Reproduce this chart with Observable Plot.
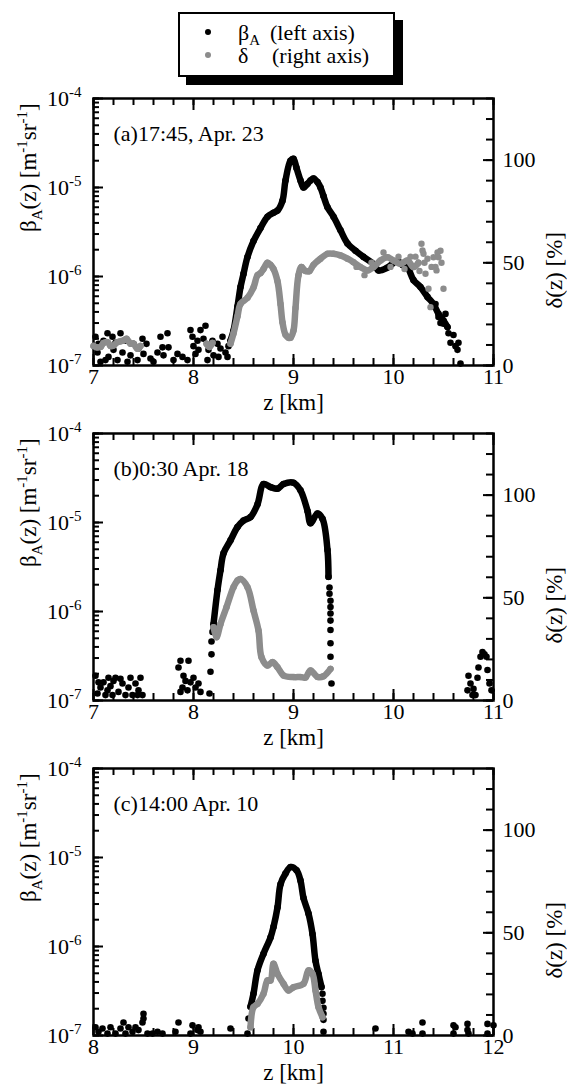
<!DOCTYPE html>
<html>
<head>
<meta charset="utf-8">
<script src="https://cdn.jsdelivr.net/npm/d3@7"></script>
<script src="https://cdn.jsdelivr.net/npm/@observablehq/plot@0.6"></script>
<style>
  html, body { margin: 0; padding: 0; background: #fff; }
  #wrap { position: relative; width: 567px; height: 1086px; font-family: "Liberation Serif", "Times New Roman", Times, "DejaVu Serif", serif; }
  #wrap svg, #wrap svg text, #wrap svg tspan { font-family: "Liberation Serif", "Times New Roman", Times, "DejaVu Serif", serif !important; }
  .layer { position: absolute; left: 0; }
  .legend { position: absolute; left: 178px; top: 12px; width: 213px; height: 61px; border: 2px solid #000; box-shadow: 8px 8px 0 #000; background: #fff; font-size: 22px; font-family: "Liberation Serif", "Times New Roman", Times, serif; }
  .legend .dot { position: absolute; width: 6px; height: 6px; border-radius: 50%; }
  .legend .t { position: absolute; line-height: 22px; white-space: nowrap; }
  .legend sub { font-size: 15px; vertical-align: -5px; line-height: 0; }
</style>
</head>
<body>
<div id="wrap">
  <div class="legend">
    <span class="dot" style="left:25px;top:15px;background:#000"></span>
    <span class="t" style="left:58px;top:8px">β<sub>A</sub></span>
    <span class="t" style="left:90px;top:8px">(left axis)</span>
    <span class="dot" style="left:25px;top:38px;background:#8c8c8c"></span>
    <span class="t" style="left:58px;top:31px">δ</span>
    <span class="t" style="left:92px;top:31px">(right axis)</span>
  </div>
</div>
<script>
// ---------------- data ----------------
const betaTicks = [1e-7, 1e-6, 1e-5, 1e-4];
const deltaTicks = [0, 50, 100];
const zTicksAB = [7, 8, 9, 10, 11];
const zTicksC = [8, 9, 10, 11, 12];
const labels = ["(a)17:45, Apr. 23", "(b)0:30 Apr. 18", "(c)14:00 Apr. 10"];

// Panel (a)
const aNoiseZ = [7.02,7.04,7.05,7.07,7.10,7.12,7.14,7.15,7.19,7.20,7.22,7.24,7.27,7.29,7.32,7.34,7.37,7.40,7.44,7.45,7.49,7.50,7.53,7.57,7.60,7.64,7.67,7.69,7.70,7.74,7.75,7.80,7.84,7.89,7.94,7.97,7.99,8.00,8.02,8.04,8.05,8.07,8.10,8.12,8.14,8.15,8.19,8.20,8.24,8.25,8.27,8.29,8.32,8.34,8.35];
const aNoiseB = [2.1e-7,1.4e-7,1.75e-7,1.1e-7,1.9e-7,1.15e-7,2.3e-7,1.25e-7,2.1e-7,1.5e-7,1.8e-7,1.15e-7,2.3e-7,1.4e-7,1.9e-7,1.1e-7,1.3e-7,1.75e-7,1.15e-7,1.55e-7,2.0e-7,1.35e-7,1.75e-7,1.2e-7,1.1e-7,1.4e-7,2.1e-7,1.6e-7,1.3e-7,2.3e-7,1.6e-7,1.15e-7,1.35e-7,1.25e-7,1.15e-7,2.5e-7,2.1e-7,1.65e-7,1.35e-7,1.9e-7,1.5e-7,2.5e-7,2.0e-7,2.8e-7,1.15e-7,1.5e-7,1.9e-7,1.3e-7,1.75e-7,1.25e-7,1.55e-7,2.1e-7,1.4e-7,1.25e-7,1.65e-7];
const aProfZ = [8.37,8.40,8.44,8.47,8.50,8.54,8.60,8.67,8.74,8.80,8.84,8.89,8.92,8.97,9.00,9.03,9.07,9.10,9.14,9.17,9.20,9.24,9.27,9.30,9.34,9.40,9.47,9.54,9.62,9.70,9.80,9.85,9.94,10.04,10.09,10.14,10.20,10.27,10.34,10.40,10.45,10.50,10.54];
const aProfB = [1.9e-7,2.45e-7,4.6e-7,7.6e-7,1.07e-6,1.66e-6,2.5e-6,3.5e-6,4.7e-6,5.2e-6,5.5e-6,7.1e-6,1.2e-5,2.0e-5,2.1e-5,1.66e-5,1.2e-5,1.0e-5,1.1e-5,1.2e-5,1.26e-5,1.15e-5,1.0e-5,8.0e-6,6.0e-6,4.7e-6,3.3e-6,2.35e-6,1.95e-6,1.66e-6,1.38e-6,1.17e-6,1.26e-6,1.5e-6,1.35e-6,1.26e-6,9.1e-7,7.6e-7,5.9e-7,4.9e-7,3.8e-7,3.2e-7,2.7e-7];
const aTailZ = [10.39,10.42,10.45,10.47,10.50,10.52,10.55,10.57,10.60,10.62,10.64,10.65,10.67];
const aTailB = [4.6e-7,4.9e-7,3.5e-7,3.0e-7,2.95e-7,3.8e-7,2.3e-7,1.8e-7,2.2e-7,1.65e-7,1.5e-7,1.8e-7,1.05e-7];
const aDLowZ = [7.00,7.03,7.07,7.10,7.14,7.17,7.20,7.24,7.27,7.30,7.33,7.37,7.40,7.44,7.47];
const aDLowD = [9.5,8.9,9.0,11.0,11.4,9.5,9.7,11.4,11.8,12.2,13.0,10.6,10.6,8.1,9.5];
const aDMidZ = [8.13,8.16,8.19];
const aDMidD = [10.6,9.0,11.0];
const aDProfZ = [8.37,8.40,8.44,8.47,8.54,8.60,8.64,8.67,8.70,8.74,8.77,8.80,8.84,8.87,8.89,8.92,8.95,8.97,9.00,9.02,9.05,9.08,9.12,9.16,9.20,9.27,9.34,9.40,9.47,9.54,9.60,9.67,9.74,9.80,9.87,9.94,10.00,10.07,10.14,10.20,10.25];
const aDProfD = [10.6,15.6,24,30,33,38,44,45,47,50,49,47,41,30,21,15,13.5,13.5,17,28,44,48,46,46,49,52,54.4,54.4,53.6,52,50.3,47.9,46.3,47.9,51.1,52.7,51.1,49.5,51.1,47.9,50];
const aDScatZ = [9.63,9.71,9.78,9.90,9.97,10.05,10.11,10.17,10.22,10.26,10.28,10.29,10.30,10.31,10.32,10.34,10.35,10.37,10.38,10.40,10.42,10.43,10.44,10.45,10.47,10.48,10.50];
const aDScatD = [48,44,50,55,48,53,47,53,53,46,59.3,56,54.4,50,44.7,52,37.4,28.4,48,52.7,48,46.3,55,52.7,55.9,50,37.4];

// Panel (b)
const bNoiseZ = [7.02,7.04,7.05,7.07,7.10,7.12,7.14,7.15,7.17,7.19,7.20,7.22,7.25,7.27,7.29,7.32,7.35,7.37,7.39,7.42,7.44,7.45,7.47,7.49,7.85,7.87,7.87,7.89,7.90,7.92,7.94,7.95,7.97,8.00,8.02,8.05,8.07,8.16,8.17,8.18,8.18,8.19,8.20];
const bNoiseB = [1.9e-7,1.2e-7,1.6e-7,1.4e-7,1.6e-7,1.15e-7,1.3e-7,1.8e-7,1.45e-7,1.15e-7,1.66e-7,1.8e-7,1.25e-7,1.75e-7,1.55e-7,1.15e-7,1.4e-7,1.8e-7,1.15e-7,1.55e-7,1.15e-7,1.3e-7,1.8e-7,1.15e-7,2.35e-7,2.8e-7,1.25e-7,1.4e-7,1.9e-7,1.66e-7,1.3e-7,2.8e-7,1.6e-7,1.8e-7,1.4e-7,1.55e-7,1.25e-7,1.2e-7,2.1e-7,3.3e-7,4.6e-7,5.9e-7,6.6e-7];
const bProfZ = [8.20,8.24,8.27,8.30,8.37,8.44,8.50,8.57,8.64,8.70,8.77,8.84,8.90,9.00,9.07,9.14,9.17,9.24,9.29,9.34,9.35];
const bProfB = [7.2e-7,1.74e-6,2.9e-6,4.5e-6,6.3e-6,8.9e-6,1.05e-5,1.15e-5,1.6e-5,2.7e-5,2.5e-5,2.4e-5,2.7e-5,2.8e-5,2.3e-5,1.35e-5,9.8e-6,1.26e-5,1.1e-5,4.9e-6,2.45e-6];
const bEdgeZ = [9.36,9.36,9.37,9.37,9.37,9.37,9.37,9.37,9.37,9.38,10.74,10.75,10.77,10.79,10.80,10.82,10.84,10.85,10.87,10.89,10.91,10.93,10.94,10.96,10.98];
const bEdgeB = [1.86e-6,1.58e-6,1.32e-6,1.12e-6,9.5e-7,7.9e-7,6.2e-7,4.4e-7,3.1e-7,1.55e-7,1.3e-7,1.9e-7,1.55e-7,1.15e-7,1.35e-7,1.15e-7,1.8e-7,2.35e-7,3.1e-7,3.5e-7,3.3e-7,3.1e-7,2.2e-7,1.55e-7,1.3e-7];
const bDProfZ = [8.20,8.23,8.27,8.33,8.40,8.44,8.47,8.54,8.60,8.65,8.68,8.74,8.79,8.84,8.90,9.00,9.07,9.12,9.17,9.24,9.30,9.37];
const bDProfD = [35.7,30.8,37.3,45.4,55.2,58.4,59.2,55.2,43.8,34.1,21.1,17.0,18.7,16.2,12.2,11.4,11.4,11.2,14.6,11.5,11.8,15.4];

// Panel (c)
const cNoiseZ = [8.02,8.05,8.09,8.14,8.17,8.22,8.27,8.30,8.32,8.35,8.39,8.42,8.45,8.49,8.50,8.50,8.54,8.59,8.64,8.69,8.82,8.85,8.97,8.99,9.04,9.05,9.07,9.37,9.54,9.55,10.30,10.82,11.15,11.19,11.29,11.29,11.60,11.60,11.62,11.74,11.74,11.75,11.94,11.94,12.0];
const cNoiseB = [1.24e-7,1.1e-7,1.2e-7,1.05e-7,1.24e-7,1.05e-7,1.2e-7,1.4e-7,1.05e-7,1.24e-7,1.1e-7,1.24e-7,1.15e-7,1.4e-7,1.75e-7,1.55e-7,1.05e-7,1.05e-7,1.1e-7,1.05e-7,1.1e-7,1.4e-7,1.05e-7,1.3e-7,1.15e-7,1.24e-7,1.1e-7,1.2e-7,1.05e-7,1.55e-7,1.1e-7,1.2e-7,1.1e-7,1.05e-7,1.4e-7,1.05e-7,1.3e-7,1.05e-7,1.24e-7,1.35e-7,1.15e-7,1.05e-7,1.35e-7,1.05e-7,1.3e-7];
const cProfZ = [9.57,9.60,9.64,9.70,9.77,9.80,9.84,9.87,9.92,9.97,10.03,10.07,10.10,10.15,10.19,10.22,10.25,10.28];
const cProfB = [2.1e-7,2.95e-7,5.4e-7,8.3e-7,1.26e-6,1.66e-6,2.75e-6,5.0e-6,6.6e-6,7.8e-6,7.2e-6,5.5e-6,3.5e-6,2.35e-6,1.38e-6,6.9e-7,4.9e-7,3.5e-7];
const cEdgeZ = [10.29,10.29,10.30,10.30,10.30];
const cEdgeB = [2.95e-7,2.45e-7,2.05e-7,1.75e-7,1.5e-7];
const cDProfZ = [9.57,9.60,9.64,9.70,9.74,9.77,9.80,9.84,9.90,9.95,10.00,10.10,10.15,10.19,10.22,10.25,10.29];
const cDProfD = [4.0,13.8,15.4,20.3,26.8,26.8,34.9,30.0,25.2,21.9,23.5,25.2,31.7,30.0,21.9,13.8,8.9];

// ---------------- helpers ----------------
const pts = (zs, vs, seg) => zs.map((z, i) => ({z, v: vs[i], seg: seg || 0}));
const FONT = "'Liberation Serif', 'Times New Roman', Times, 'DejaVu Serif', serif";
const BLACK = "#000", GRAY = "#8c8c8c";

function richText(svg, base) {
  for (const t of svg.querySelectorAll("text")) {
    const s = t.textContent;
    if (!/[\^_]\{/.test(s)) continue;
    const parts = [];
    const re = /([\^_])\{([^}]*)\}/g;
    let last = 0, m;
    while ((m = re.exec(s))) {
      if (m.index > last) parts.push(["", s.slice(last, m.index)]);
      parts.push([m[1], m[2]]);
      last = re.lastIndex;
    }
    if (last < s.length) parts.push(["", s.slice(last)]);
    t.textContent = "";
    let shift = 0;
    for (const [k, txt] of parts) {
      const ts = document.createElementNS("http://www.w3.org/2000/svg", "tspan");
      const target = k === "^" ? -0.4 * base : k === "_" ? 0.28 * base : 0;
      if (target !== shift) ts.setAttribute("dy", target - shift);
      shift = target;
      if (k) ts.setAttribute("font-size", Math.round(0.68 * base));
      ts.textContent = txt;
      t.appendChild(ts);
    }
  }
}

const W = 567, H = 335, mL = 93, mR = 74, mT = 20, mB = 48;
const fW = W - mL - mR, fH = H - mT - mB;

function panel(top, zTicks, label, black, gray) {
  const xDomain = [zTicks[0], zTicks[zTicks.length - 1]];
  const xMinor = d3.range(xDomain[0], xDomain[1] + 1e-6, 0.2);
  const yMinor = d3.scaleLog().domain([1e-7, 1e-4]).ticks();
  const dMinor = d3.range(0, 131, 10);
  const common = {
    width: W, height: H, marginLeft: mL, marginRight: mR, marginTop: mT, marginBottom: mB,
    style: {fontFamily: FONT, fontSize: "22px", background: "transparent", overflow: "visible"}
  };
  const lineOpts = (stroke) => ({x: "z", y: "v", z: "seg", stroke, strokeWidth: 6.5, strokeLinecap: "round", strokeLinejoin: "round", curve: "catmull-rom"});

  const betaPlot = Plot.plot({
    ...common,
    x: {domain: xDomain},
    y: {type: "log", domain: [1e-7, 1e-4]},
    marks: [
      Plot.tickX(xMinor, {x: d => d, insetTop: fH - 7, strokeWidth: 2}),
      Plot.tickX(xMinor, {x: d => d, insetBottom: fH - 7, strokeWidth: 2}),
      Plot.tickX(zTicks, {x: d => d, insetTop: fH - 11, strokeWidth: 2}),
      Plot.tickX(zTicks, {x: d => d, insetBottom: fH - 12, strokeWidth: 2}),
      Plot.tickY(yMinor, {y: d => d, insetRight: fW - 6, strokeWidth: 2}),
      Plot.tickY(betaTicks, {y: d => d, insetRight: fW - 10, strokeWidth: 2}),
      Plot.axisX(zTicks, {tickSize: 0, tickPadding: 3, tickFormat: d => String(d), label: null, fontSize: 22}),
      Plot.axisY(betaTicks, {tickSize: 0, tickPadding: 12, tickFormat: d => `10^{${Math.round(Math.log10(d))}}`, label: null, fontSize: 22}),
      Plot.line(black.lines, lineOpts(BLACK)),
      Plot.dot(black.lines, {x: "z", y: "v", r: 3.3, fill: BLACK}),
      Plot.dot(black.dots, {x: "z", y: "v", r: 3.3, fill: BLACK}),
      Plot.frame({stroke: BLACK, strokeWidth: 2.5}),
      Plot.text([label], {frameAnchor: "top-left", dx: 20, dy: 27, textAnchor: "start", fontSize: 22}),
      Plot.text(["z [km]"], {frameAnchor: "bottom", dy: 44, fontSize: 23}),
      Plot.text(["β_{A}(z) [m^{-1}sr^{-1}]"], {frameAnchor: "left", rotate: -90, dx: -65, fontSize: 23})
    ]
  });

  const deltaPlot = Plot.plot({
    ...common,
    x: {domain: xDomain, axis: null},
    y: {domain: [0, 130], axis: null},
    marks: [
      Plot.tickY(dMinor, {y: d => d, insetLeft: fW - 7, strokeWidth: 2}),
      Plot.tickY(deltaTicks, {y: d => d, insetLeft: fW - 10, strokeWidth: 2}),
      Plot.axisY(deltaTicks, {anchor: "right", tickSize: 0, tickPadding: 9, label: null, fontSize: 22}),
      Plot.line(gray.lines, lineOpts(GRAY)),
      Plot.dot(gray.lines, {x: "z", y: "v", r: 3.2, fill: GRAY}),
      Plot.dot(gray.dots, {x: "z", y: "v", r: 3.2, fill: GRAY}),
      Plot.text(["δ(z) [%]"], {frameAnchor: "right", rotate: -90, dx: 61, fontSize: 23})
    ]
  });

  for (const svg of [betaPlot, deltaPlot]) {
    svg.classList.add("layer");
    svg.style.top = top + "px";
    svg.style.position = "absolute";
    svg.style.left = "0px";
    svg.style.fontFamily = FONT;
    richText(svg, 22);
    document.getElementById("wrap").appendChild(svg);
  }
}

panel(78, zTicksAB, labels[0],
  {lines: pts(aProfZ, aProfB), dots: [...pts(aNoiseZ, aNoiseB), ...pts(aTailZ, aTailB)]},
  {lines: [...pts(aDLowZ, aDLowD, 0), ...pts(aDMidZ, aDMidD, 1), ...pts(aDProfZ, aDProfD, 2)], dots: pts(aDScatZ, aDScatD)});

panel(413, zTicksAB, labels[1],
  {lines: pts(bProfZ, bProfB), dots: [...pts(bNoiseZ, bNoiseB), ...pts(bEdgeZ, bEdgeB)]},
  {lines: pts(bDProfZ, bDProfD), dots: []});

panel(748, zTicksC, labels[2],
  {lines: pts(cProfZ, cProfB), dots: [...pts(cNoiseZ, cNoiseB), ...pts(cEdgeZ, cEdgeB)]},
  {lines: pts(cDProfZ, cDProfD), dots: []});
</script>
</body>
</html>
